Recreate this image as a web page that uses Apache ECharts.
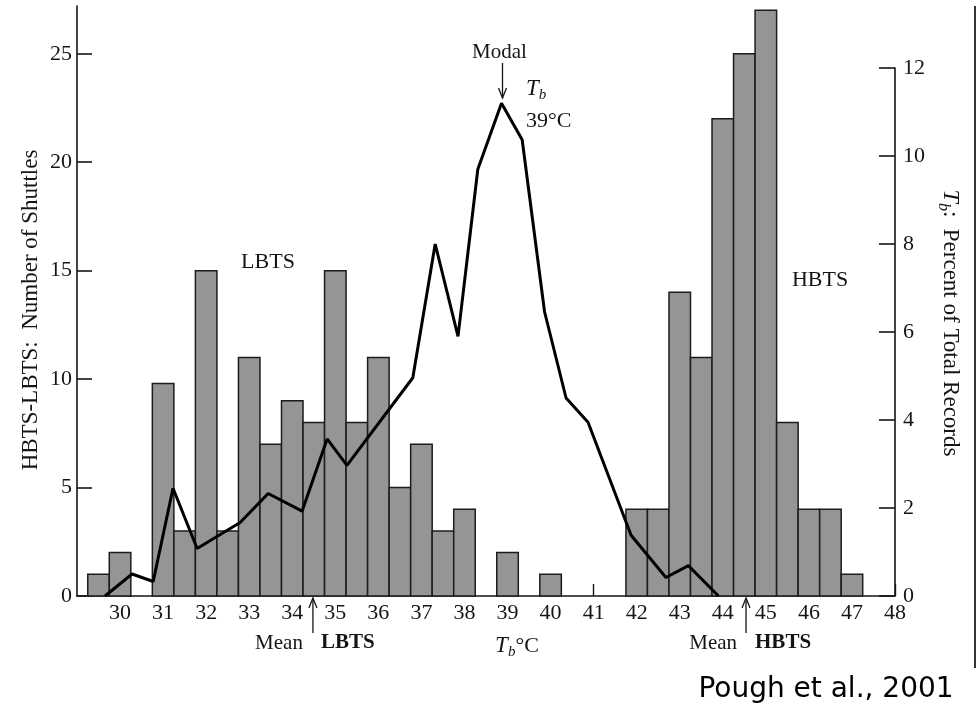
<!DOCTYPE html>
<html>
<head>
<meta charset="utf-8">
<script src="https://cdn.jsdelivr.net/npm/echarts@6/dist/echarts.min.js"></script>
<style>
  html, body { margin: 0; padding: 0; background: #fff; }
  #chart { width: 978px; height: 712px; }
</style>
</head>
<body>
<div id="chart"></div>
<script>
// shuttle histogram: bin centres (°C) and number of shuttles
const binWidth = 0.5;
const shuttleTemps = [29.5, 30, 31, 31.5, 32, 32.5, 33, 33.5, 34, 34.5, 35, 35.5, 36, 36.5, 37, 37.5, 38, 39, 40,
  42, 42.5, 43, 43.5, 44, 44.5, 45, 45.5, 46, 46.5, 47];
const shuttleCounts = [1, 2, 9.8, 3, 15, 3, 11, 7, 9, 8, 15, 8, 11, 5, 7, 3, 4, 2, 1,
  4, 4, 14, 11, 22, 25, 27, 8, 4, 4, 1];

// Tb records: percent of total records
const recordTemps = [29.65, 30.28, 30.77, 31.23, 31.79, 32.79, 33.44, 34.23, 34.81, 35.27, 36.8, 37.32, 37.85,
  38.31, 38.86, 39.34, 39.86, 40.36, 40.87, 41.87, 42.68, 43.2, 43.9];
const recordPercents = [0, 0.5, 0.33, 2.45, 1.08, 1.67, 2.33, 1.93, 3.57, 2.97, 4.96, 8.0, 5.9,
  9.7, 11.2, 10.37, 6.46, 4.5, 3.95, 1.38, 0.42, 0.69, 0];

const leftTicks = [0, 5, 10, 15, 20, 25];
const meanLBTS = 34.48;
const meanHBTS = 44.54;
const modalTb = 38.86;

const serif = '"Liberation Serif", "DejaVu Serif", serif';
const ink = '#151515';

const chart = echarts.init(document.getElementById('chart'));

const axisLineStyle = { lineStyle: { color: ink, width: 1.6 } };
const labelStyle = { fontFamily: serif, fontSize: 22, color: ink };

chart.setOption({
  animation: false,
  backgroundColor: '#fff',
  grid: [
    { left: 77, right: 83, top: 6, bottom: 116 },
    { left: 77, right: 83, top: 68, bottom: 116 }
  ],
  xAxis: [
    {
      type: 'value', gridIndex: 0, min: 29, max: 48, interval: 1,
      axisLine: axisLineStyle,
      axisTick: { inside: true, length: 12, lineStyle: { color: ink, width: 1.4 } },
      axisLabel: Object.assign({ showMinLabel: false, margin: 6 }, labelStyle),
      splitLine: { show: false }
    },
    { type: 'value', gridIndex: 1, min: 29, max: 48, show: false }
  ],
  yAxis: [
    {
      type: 'value', gridIndex: 0, position: 'left', min: 0, max: 27.2,
      axisLine: Object.assign({ show: true }, axisLineStyle),
      axisTick: { show: true, inside: true, length: 15, customValues: leftTicks, lineStyle: { color: ink, width: 1.6 } },
      axisLabel: Object.assign({ customValues: leftTicks, margin: 5 }, labelStyle),
      splitLine: { show: false }
    },
    {
      type: 'value', gridIndex: 1, position: 'right', min: 0, max: 12, interval: 2,
      axisLine: Object.assign({ show: true }, axisLineStyle),
      axisTick: { show: true, inside: true, length: 16, lineStyle: { color: ink, width: 1.6 } },
      axisLabel: Object.assign({ margin: 8 }, labelStyle),
      splitLine: { show: false }
    }
  ],
  series: [
    {
      type: 'custom',
      xAxisIndex: 0, yAxisIndex: 0,
      data: shuttleTemps.map((t, i) => [t, shuttleCounts[i]]),
      encode: { x: 0, y: 1 },
      renderItem: (params, api) => {
        const c = api.value(0);
        const h = api.value(1);
        const p0 = api.coord([c - binWidth / 2, h]);
        const p1 = api.coord([c + binWidth / 2, 0]);
        return {
          type: 'rect',
          shape: { x: p0[0], y: p0[1], width: p1[0] - p0[0], height: p1[1] - p0[1] },
          style: { fill: '#959595', stroke: '#1c1c1c', lineWidth: 1.5 }
        };
      },
      z: 2
    },
    {
      type: 'line',
      xAxisIndex: 1, yAxisIndex: 1,
      data: recordTemps.map((t, i) => [t, recordPercents[i]]),
      showSymbol: false,
      lineStyle: { color: '#000', width: 3 },
      z: 4
    }
  ]
});

// annotations positioned from data coordinates
function px(x, y) {
  return chart.convertToPixel({ xAxisIndex: 0, yAxisIndex: 0 }, [x, y]);
}

function arrow(x, yTail, yTip) {
  const dir = yTail > yTip ? 1 : -1;
  return [
    { type: 'line', shape: { x1: x, y1: yTail, x2: x, y2: yTip }, style: { stroke: ink, lineWidth: 1.3 }, z: 10 },
    {
      type: 'polyline',
      shape: { points: [[x - 4, yTip + dir * 10], [x, yTip], [x + 4, yTip + dir * 10]] },
      style: { stroke: ink, lineWidth: 1.3, fill: null },
      z: 10
    }
  ];
}

function text(x, y, str, opts, rotation) {
  return {
    type: 'text', x: x, y: y, z: 10, rotation: rotation || 0,
    style: Object.assign({
      text: str, fontFamily: serif, fontSize: 22, fill: ink,
      textAlign: 'center', textVerticalAlign: 'middle'
    }, opts || {})
  };
}

const subRich = {
  i: { fontFamily: serif, fontStyle: 'italic', fontSize: 23, fill: ink },
  s: { fontFamily: serif, fontStyle: 'italic', fontSize: 15, fill: ink, padding: [13, 0, 0, 0] },
  n: { fontFamily: serif, fontSize: 22, fill: ink }
};
const titleRich = {
  i: { fontFamily: serif, fontStyle: 'italic', fontSize: 24, fill: ink },
  s: { fontFamily: serif, fontStyle: 'italic', fontSize: 16, fill: ink, padding: [13, 0, 0, 0] },
  n: { fontFamily: serif, fontSize: 23, fill: ink }
};

const base = px(29, 0)[1];
const xL = px(meanLBTS, 0)[0];
const xH = px(meanHBTS, 0)[0];
const xM = px(modalTb, 0)[0];

const graphics = [].concat(
  arrow(xL, base + 37, base + 2),
  arrow(xH, base + 37, base + 2),
  arrow(xM + 1, 63, 98),
  [
    text(xL - 10, base + 47, 'Mean', { textAlign: 'right', fontSize: 21 }),
    text(xL + 8, base + 47, 'LBTS', { textAlign: 'left', fontWeight: 'bold', fontSize: 21 }),
    text(xH - 9, base + 47, 'Mean', { textAlign: 'right', fontSize: 21 }),
    text(xH + 9, base + 47, 'HBTS', { textAlign: 'left', fontWeight: 'bold', fontSize: 21 }),
    text(517, 646, '{i|T}{s|b}{n|°C}', { rich: subRich }),
    text(xM - 2, 52, 'Modal', { fontSize: 21 }),
    text(526, 89, '{i|T}{s|b}', { textAlign: 'left', rich: subRich }),
    text(526, 121, '39°C', { textAlign: 'left' }),
    text(268, 262, 'LBTS'),
    text(820, 280, 'HBTS'),
    text(31, 310, 'HBTS-LBTS:  Number of Shuttles', { fontSize: 23 }, Math.PI / 2),
    text(950, 323, '{i|T}{s|b}{n|:  Percent of Total Records}', { rich: titleRich }, -Math.PI / 2),
    text(826, 690, 'Pough et al., 2001', { fontFamily: '"DejaVu Sans", sans-serif', fontSize: 28, fill: '#000' }),
    { type: 'line', shape: { x1: 975, y1: 6, x2: 975, y2: 668 }, style: { stroke: '#333', lineWidth: 2 }, z: 10 }
  ]
);

chart.setOption({ graphic: graphics });
</script>
</body>
</html>
